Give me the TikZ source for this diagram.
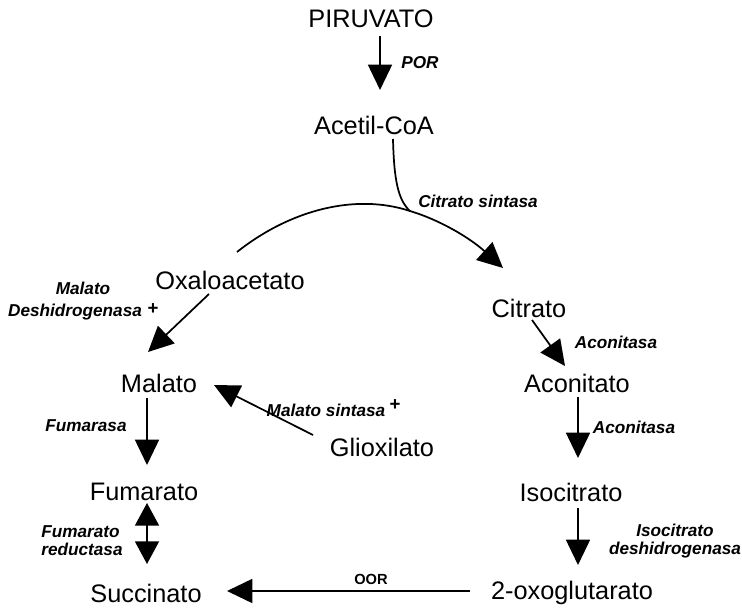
\documentclass[tikz,border=0pt]{standalone}
\usepackage{fontspec}
\setmainfont{Liberation Sans}
\usetikzlibrary{arrows.meta}
\tikzset{
  met/.style={font=\fontsize{19}{22}\selectfont, inner sep=0pt},
  enz/.style={font=\fontsize{12.9}{13.5}\selectfont\bfseries\itshape, inner sep=0pt, align=center},
  rx/.style={line width=1.3pt, -{Triangle[width=18pt,length=19pt]}},
  rxs/.style={line width=1.3pt, -{Triangle[width=18pt,length=17pt]}},
  ln/.style={line width=1.3pt}
}
\begin{document}
\begin{tikzpicture}[x=0.75pt,y=-0.75pt]
\useasboundingbox (0,0) rectangle (742,610);
% metabolites
\node[met] (pir) at (371,19) {PIRUVATO};
\node[met] (ace) at (374,125) {Acetil-CoA};
\node[met] (oxa) at (230,280) {Oxaloacetato};
\node[met] (cit) at (529,308) {Citrato};
\node[met] (mal) at (159,383) {Malato};
\node[met] (aco) at (577,383) {Aconitato};
\node[met] (gli) at (382,447) {Glioxilato};
\node[met] (fum) at (144,492) {Fumarato};
\node[met] (iso) at (571,492) {Isocitrato};
\node[met] (suc) at (146,593) {Succinato};
\node[met] (oxg) at (572,593) {2-oxoglutarato};
% enzymes
\node[enz] (por) at (420,63) {POR};
\node[enz] (cs) at (478,201) {Citrato sintasa};
\node[enz, font=\fontsize{12.9}{17}\selectfont\bfseries\itshape] (mdh) at (75,301) {\hspace*{12pt}Malato\\Deshidrogenasa};
\node[font=\fontsize{14}{14}\selectfont\bfseries, inner sep=0pt] (mdhp) at (153,309) {+};
\node[enz] (acn1) at (616,342) {Aconitasa};
\node[enz] (ms) at (326,410) {Malato sintasa};
\node[font=\fontsize{14}{14}\selectfont\bfseries, inner sep=0pt] (msp) at (395,405) {+};
\node[enz] (fumase) at (86,426) {Fumarasa};
\node[enz] (acn2) at (634,427) {Aconitasa};
\node[enz, align=left] (frd) at (82,541) {Fumarato\\reductasa};
\node[enz] (idh) at (675,541) {Isocitrato\\deshidrogenasa};
\node[enz, font=\fontsize{11}{12}\selectfont\bfseries] (oor) at (371,579) {OOR};
% arrows
\draw[rx] (pir.south -| 380,0) ++(0,8) -- (380,90);
\coordinate (arcstart) at (237,252);
\coordinate (merge) at (410,211);
\coordinate (cstip) at (503,268);
\coordinate (acestart) at (393,139);
\draw[ln] (arcstart) .. controls (290,210) and (355,193) .. (merge);
\draw[rx] (merge) .. controls (440,220) and (470,238) .. (cstip);
\draw[ln] (acestart) .. controls (394,180) and (398,200) .. (merge);
\draw[rx] (209,294) -- (148,352);
\draw[rx] (313,435) -- (214,385);
\draw[rx] (532,320) -- (565,366);
\draw[rx] (578,397) -- (578,458);
\draw[rx] (147,398) -- (147,465);
\draw[rxs, {Triangle[width=18pt,length=17pt]}-{Triangle[width=18pt,length=17pt]}] (147,503) -- (147,564);
\draw[rx] (578,508) -- (578,565);
\draw[rx] (470,591) -- (227,591);
\end{tikzpicture}
\end{document}
